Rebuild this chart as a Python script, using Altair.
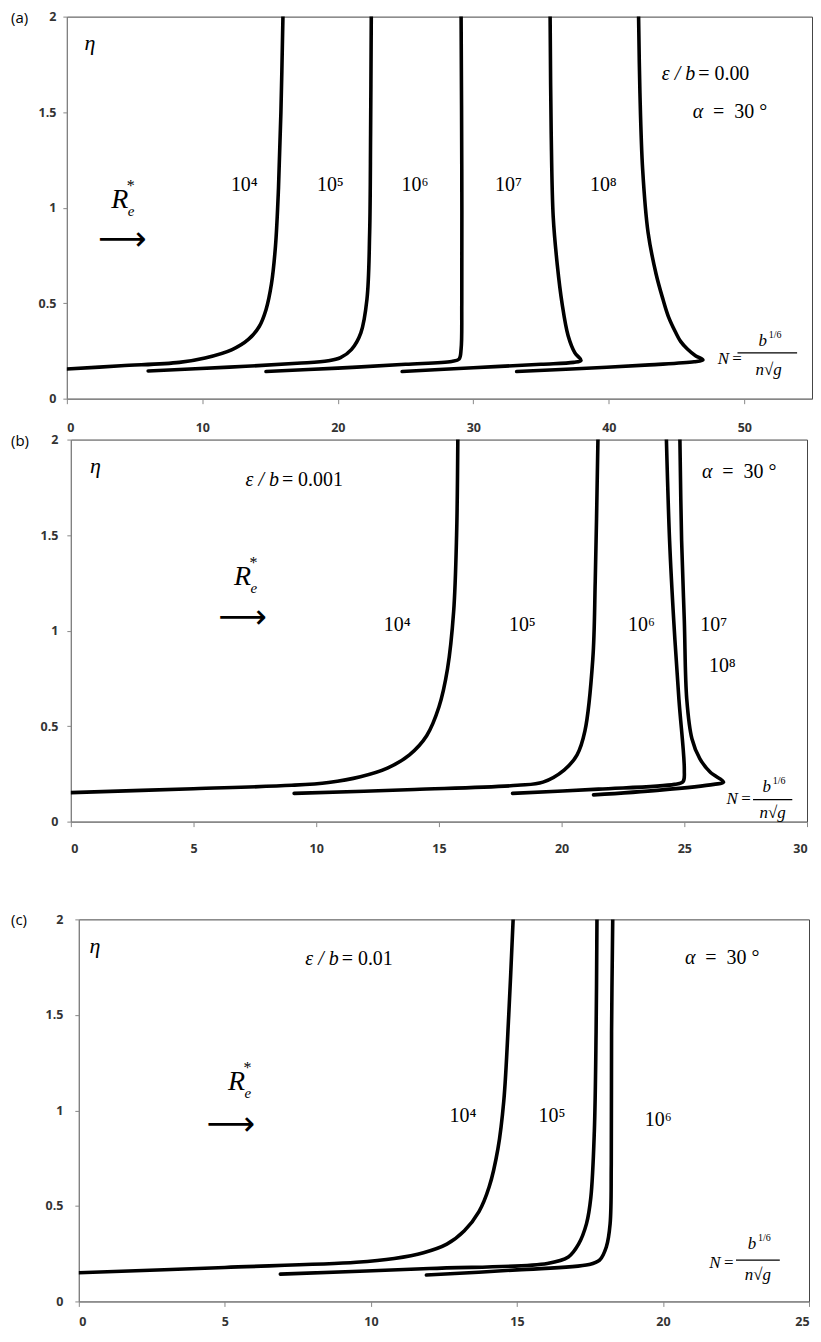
import altair as alt
import pandas as pd

SERIF = "Liberation Serif"
SANS = "Open Sans"
NB = "\u00a0"

# ---------------- data ----------------
# panel (a)  eps/b = 0.00
A4_X = [0, 4, 8.3, 10.2, 12.2, 13.4, 14.2, 14.7, 15.1, 15.4, 15.62, 15.8, 15.95]
A4_Y = [0.155, 0.172, 0.19, 0.213, 0.257, 0.31, 0.378, 0.466, 0.6, 0.8, 1.1, 1.5, 2.0]
A5_X = [6.0, 12, 17, 19.3, 20.2, 21.0, 21.7, 22.15, 22.35, 22.42, 22.47]
A5_Y = [0.145, 0.165, 0.185, 0.198, 0.215, 0.257, 0.345, 0.52, 0.87, 1.39, 2.0]
A6_X = [14.7, 20, 25, 28.4, 28.95, 29.1, 29.15, 29.15, 29.1]
A6_Y = [0.142, 0.16, 0.18, 0.195, 0.207, 0.26, 0.5, 1.2, 2.0]
A7_X = [24.75, 30, 35, 37.4, 37.95, 37.5, 37.0, 36.55, 36.2, 35.9, 35.75, 35.67]
A7_Y = [0.142, 0.162, 0.18, 0.19, 0.2, 0.24, 0.33, 0.5, 0.7, 0.95, 1.39, 2.0]
A8_X = [33.2, 38, 43, 46.3, 46.95, 46.4, 45.8, 45.3, 44.95, 44.4, 44.0, 43.5, 42.9, 42.5, 42.3, 42.2]
A8_Y = [0.142, 0.158, 0.177, 0.193, 0.203, 0.225, 0.26, 0.3, 0.345, 0.43, 0.52, 0.65, 0.87, 1.2, 1.6, 2.0]

# panel (b)  eps/b = 0.001
B4_X = [0, 5, 9, 10.5, 11.8, 12.9, 13.8, 14.5, 15.0, 15.35, 15.6, 15.72, 15.77]
B4_Y = [0.152, 0.172, 0.19, 0.205, 0.235, 0.28, 0.35, 0.45, 0.6, 0.8, 1.1, 1.5, 2.0]
B5_X = [9.1, 14, 18.2, 19.24, 20.1, 20.63, 20.95, 21.27, 21.37, 21.48]
B5_Y = [0.148, 0.168, 0.19, 0.207, 0.27, 0.35, 0.475, 0.85, 1.26, 2.0]
B6_X = [18.0, 21.5, 24.6, 24.95, 25.0, 24.78, 24.57, 24.4, 24.27]
B6_Y = [0.148, 0.17, 0.195, 0.21, 0.27, 0.64, 1.05, 1.47, 2.0]
B7_X = [21.3, 24, 26.2, 26.6, 26.06, 25.63, 25.31, 25.1, 25.0, 24.89, 24.82]
B7_Y = [0.14, 0.165, 0.195, 0.207, 0.258, 0.33, 0.434, 0.64, 1.05, 1.47, 2.0]

# panel (c)  eps/b = 0.01
C4_X = [0, 5, 9.5, 10.8, 11.8, 12.6, 13.2, 13.7, 14.05, 14.35, 14.55, 14.72, 14.87]
C4_Y = [0.15, 0.178, 0.205, 0.225, 0.255, 0.3, 0.37, 0.47, 0.6, 0.8, 1.05, 1.5, 2.0]
C5_X = [6.9, 12, 16.04, 16.76, 17.11, 17.38, 17.53, 17.65, 17.71, 17.74]
C5_Y = [0.143, 0.172, 0.199, 0.233, 0.30, 0.406, 0.544, 0.89, 1.41, 2.0]
C6_X = [11.9, 15, 17.47, 17.83, 18.06, 18.19, 18.23, 18.24, 18.28]
C6_Y = [0.138, 0.165, 0.193, 0.216, 0.285, 0.406, 0.717, 1.41, 2.0]

Y_TICKS = [0, 0.5, 1, 1.5, 2]
A_XTICKS = [0, 10, 20, 30, 40, 50]
B_XTICKS = [0, 5, 10, 15, 20, 25, 30]
C_XTICKS = [0, 5, 10, 15, 20, 25]


def curves(series):
    rows = []
    for name, xs, ys in series:
        for i, (x, y) in enumerate(zip(xs, ys)):
            rows.append({"curve": name, "x": x, "eta": y, "ord": i})
    return pd.DataFrame(rows)


def txt(x, y, s, size=20, style="normal", font=SERIF, align="center",
        baseline="middle", dx=0, dy=0, px=False, weight="normal"):
    d = pd.DataFrame({"x": [x], "eta": [y], "t": [s]})
    m = alt.Chart(d).mark_text(font=font, fontSize=size, fontStyle=style,
                               fontWeight=weight, align=align,
                               baseline=baseline, dx=dx, dy=dy, color="black")
    if px:
        return m.encode(x=alt.value(x), y=alt.value(y), text="t:N")
    return m.encode(x="x:Q", y="eta:Q", text="t:N")


def hbar(x1, x2, y, w=1.3):
    d = pd.DataFrame({"x": [x1], "x2": [x2], "eta": [y]})
    return alt.Chart(d).mark_rule(color="black", strokeWidth=w).encode(
        x="x:Q", x2="x2:Q", y="eta:Q")


def panel(df, xmax, xticks, width, ylabpad, xlabpad, letter, letter_x, annots):
    lines = alt.Chart(df).mark_line(
        color="black", strokeWidth=3.6, strokeJoin="round", strokeCap="round",
        interpolate="catmull-rom", clip=True
    ).encode(
        x=alt.X("x:Q", scale=alt.Scale(domain=[0, xmax], nice=False),
                axis=alt.Axis(values=xticks, title=None, tickSize=5,
                              labelPadding=xlabpad, format="~g")),
        y=alt.Y("eta:Q", scale=alt.Scale(domain=[0, 2], nice=False),
                axis=alt.Axis(values=Y_TICKS, title=None, tickSize=4,
                              labelPadding=ylabpad, format="~g")),
        detail="curve:N",
        order="ord:Q",
    )
    lab = txt(letter_x, 1, letter, size=15, font=SANS, align="left", px=True)
    body = alt.layer(lines, lab, *annots).properties(width=width, height=383)
    spacer = alt.Chart(pd.DataFrame({"v": [0]})).mark_point(
        opacity=0, size=0, strokeWidth=0
    ).encode(
        x=alt.value(0), y=alt.value(0)
    ).properties(width=1, height=1,
                 view=alt.ViewBackground(strokeWidth=0, strokeOpacity=0))
    return alt.hconcat(spacer, body, spacing=0)


def eqtext(x, y, left, right, size=20, gap=3):
    # italic symbol to the left of the anchor, upright "= value" to the right
    return [
        txt(x, y, left, size=size, style="italic", align="right", dx=-gap),
        txt(x, y, right, size=size, align="left", dx=0),
    ]


def nformula(xn, yn, xb1, xb2, yb, xc, ynum, yden):
    return [
        txt(xn, yn, "N", size=17, style="italic", align="right", dx=-14),
        txt(xn, yn, "=", size=17, align="right", dx=-1),
        hbar(xb1, xb2, yb),
        txt(xc, ynum, "b", size=17, style="italic", dx=-6),
        txt(xc, ynum, "1/6", size=10, align="left", dx=0, dy=-6),
        txt(xc, yden, "n√g", size=17, style="italic"),
    ]


def reynolds(xr, yr, xa, ya):
    return [
        txt(xr, yr, "R", size=28, style="italic"),
        txt(xr, yr, "*", size=16, align="left", dx=7, dy=-14),
        txt(xr, yr, "e", size=15, style="italic", align="left", dx=8, dy=11),
        txt(xa, ya, "⟶", size=34, font="DejaVu Sans"),
    ]


def powers(items, size=20):
    return [txt(x, y, s, size=size) for x, y, s in items]


ALPHA_RHS = "=" + NB + NB + "30" + NB + "°"

# ---------------- panel (a) ----------------
dfa = curves([("1e4", A4_X, A4_Y), ("1e5", A5_X, A5_Y), ("1e6", A6_X, A6_Y),
              ("1e7", A7_X, A7_Y), ("1e8", A8_X, A8_Y)])
ann_a = [txt(1.7, 1.86, "η", size=22, style="italic")] \
    + eqtext(46.6, 1.70, "ε / b", "= 0.00") \
    + eqtext(47.7, 1.50, "α", ALPHA_RHS, gap=10) \
    + reynolds(3.9, 1.04, 4.1, 0.83) + powers([
        (13.1, 1.12, "10⁴"), (19.45, 1.12, "10⁵"), (25.7, 1.12, "10⁶"),
        (32.6, 1.12, "10⁷"), (39.6, 1.12, "10⁸")]) + nformula(
    49.9, 0.21, 49.5, 53.9, 0.24, 51.8, 0.30, 0.15)
pa = panel(dfa, 55, A_XTICKS, 747, 7, 18, "(a)", -56, ann_a)

# ---------------- panel (b) ----------------
dfb = curves([("1e4", B4_X, B4_Y), ("1e5", B5_X, B5_Y), ("1e6", B6_X, B6_Y),
              ("1e7", B7_X, B7_Y)])
ann_b = [txt(1.0, 1.86, "η", size=22, style="italic")] \
    + eqtext(8.6, 1.79, "ε / b", "= 0.001") \
    + eqtext(26.55, 1.83, "α", ALPHA_RHS, gap=10) \
    + reynolds(7.0, 1.28, 7.0, 1.064) + powers([
        (13.3, 1.03, "10⁴"), (18.4, 1.03, "10⁵"), (23.25, 1.03, "10⁶"),
        (26.2, 1.03, "10⁷"), (26.55, 0.816, "10⁸")]) + nformula(
    27.75, 0.12, 27.8, 29.4, 0.115, 28.6, 0.18, 0.045)
pb = panel(dfb, 30, B_XTICKS, 738, 9, 16, "(b)", -60, ann_b)

# ---------------- panel (c) ----------------
dfc = curves([("1e4", C4_X, C4_Y), ("1e5", C5_X, C5_Y), ("1e6", C6_X, C6_Y)])
ann_c = [txt(0.55, 1.86, "η", size=22, style="italic")] \
    + eqtext(9.0, 1.79, "ε / b", "= 0.01") \
    + eqtext(21.45, 1.80, "α", ALPHA_RHS, gap=10) \
    + reynolds(5.4, 1.15, 5.2, 0.924) + powers([
        (13.15, 0.972, "10⁴"), (16.2, 0.972, "10⁵"), (19.84, 0.95, "10⁶")]) + nformula(
    22.45, 0.20, 22.5, 24.0, 0.216, 23.25, 0.30, 0.138)
pc = panel(dfc, 25, C_XTICKS, 732, 12, 9, "(c)", -68, ann_c)

chart = alt.vconcat(
    alt.vconcat(pa, pb, spacing=-2),
    pc,
    spacing=57,
).properties(
    padding={"left": 1, "top": 0, "right": 0, "bottom": 0}
).configure_view(
    stroke="#444", strokeWidth=1
).configure_axis(
    grid=False, domainColor="#888", tickColor="#888", labelFont=SANS,
    labelFontSize=12.5, labelFontWeight="bold", labelColor="#333"
)

chart.save("out.html", embed_options={"renderer": "svg", "actions": False})
